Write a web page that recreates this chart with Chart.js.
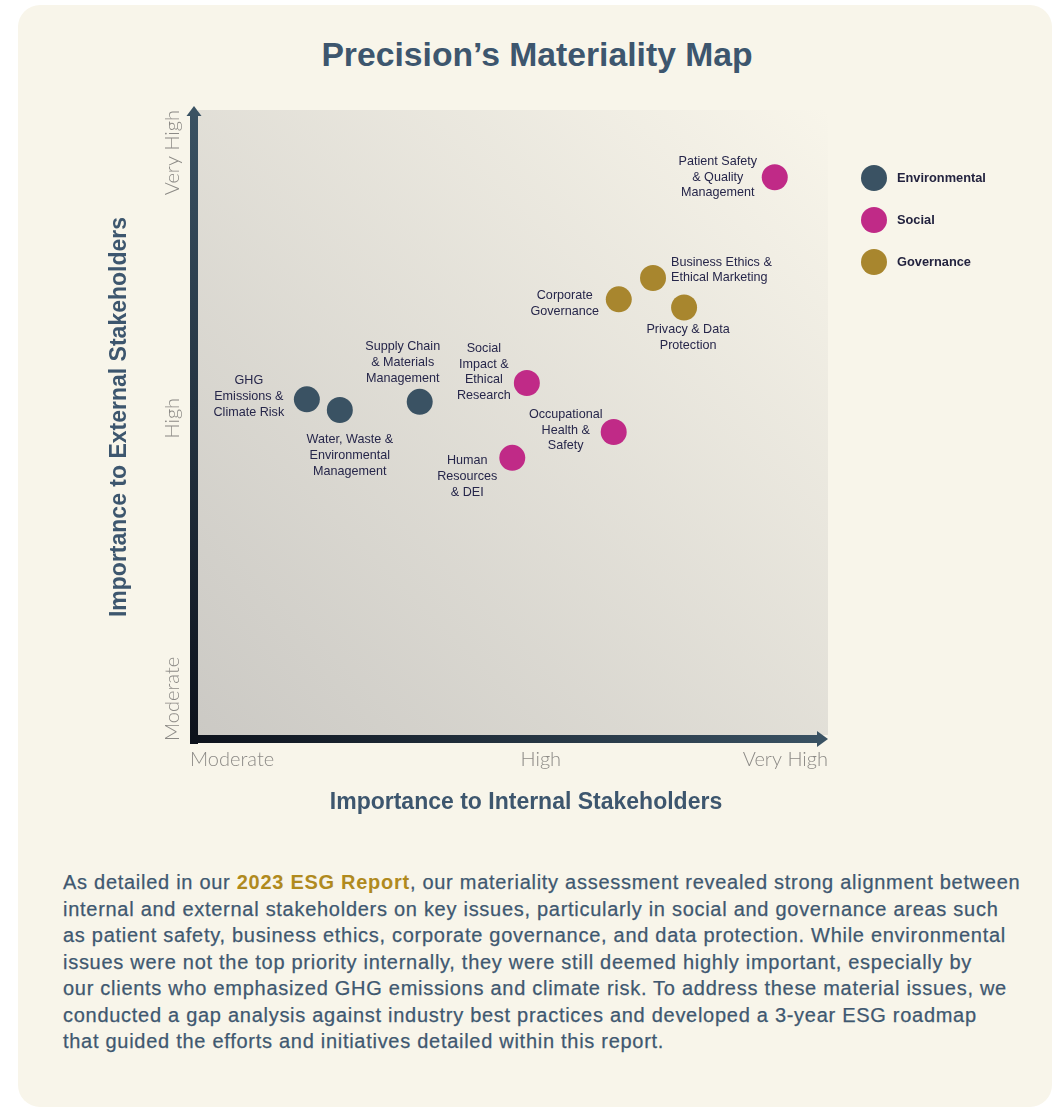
<!DOCTYPE html>
<html>
<head>
<meta charset="utf-8">
<script src="https://cdn.jsdelivr.net/npm/chart.js@4.4.1/dist/chart.umd.min.js"></script>
<style>
  html, body { margin: 0; padding: 0; background: #ffffff; }
  body { width: 1056px; height: 1109px; position: relative; overflow: hidden; font-family: 'Liberation Sans', Arial, sans-serif; }
  .card { position: absolute; left: 18px; top: 5px; width: 1034px; height: 1102px; background: #f8f5ea; border-radius: 22px; }
  h1 { position: absolute; left: 0; width: 1074px; top: 35px; margin: 0; text-align: center;
       font-family: 'Liberation Sans', Arial, sans-serif; font-weight: bold;
       font-size: 33.7px; color: #3d566e; }
  #map { position: absolute; left: 0; top: 0; }
  .note { position: absolute; left: 63px; top: 869px; margin: 0; white-space: nowrap;
          font-size: 20px; line-height: 26.5px; color: #3f5870; letter-spacing: 0.72px;
          -webkit-text-stroke: 0.25px #3f5870; }
  .note b { color: #b08a1e; -webkit-text-stroke: 0; }
</style>
</head>
<body>
<div class="card"></div>
<h1>Precision’s Materiality Map</h1>
<canvas id="map" width="1056" height="840"></canvas>
<p class="note">As detailed in our <b>2023 ESG Report</b>, our materiality assessment revealed strong alignment between<br>internal and external stakeholders on key issues, particularly in social and governance areas such<br>as patient safety, business ethics, corporate governance, and data protection. While environmental<br>issues were not the top priority internally, they were still deemed highly important, especially by<br>our clients who emphasized GHG emissions and climate risk. To address these material issues, we<br>conducted a gap analysis against industry best practices and developed a 3-year ESG roadmap<br>that guided the efforts and initiatives detailed within this report.</p>

<script>
'use strict';
/* global Chart */

// ─── Data ─────────────────────────────────────────────────────────────────────
const categories = ['Environmental', 'Social', 'Governance'];

const envIssues   = [['GHG', 'Emissions &', 'Climate Risk'],
                     ['Water, Waste &', 'Environmental', 'Management'],
                     ['Supply Chain', '& Materials', 'Management']];
const envInternal = [17.8, 23.0, 35.6];
const envExternal = [54.0, 52.3, 53.6];

const socIssues   = [['Patient Safety', '& Quality', 'Management'],
                     ['Social', 'Impact &', 'Ethical', 'Research'],
                     ['Occupational', 'Health &', 'Safety'],
                     ['Human', 'Resources', '& DEI']];
const socInternal = [91.6, 52.5, 66.2, 50.2];
const socExternal = [89.3, 56.6, 48.8, 44.7];

const govIssues   = [['Business Ethics &', 'Ethical Marketing'],
                     ['Corporate', 'Governance'],
                     ['Privacy & Data', 'Protection']];
const govInternal = [72.4, 67.0, 77.3];
const govExternal = [73.3, 69.9, 68.6];

const xTickValues = [0, 54.7, 100];
const yTickValues = [0, 51, 100];
const tickLabels  = ['Moderate', 'High', 'Very High'];

// ─── Look ─────────────────────────────────────────────────────────────────────
const colours   = ['#3a5263', '#c02a87', '#a8862e'];
const navy      = '#3d566e';
const labelInk  = '#26264a';

// where each issue label sits relative to its dot (dx, dy to text block centre)
const labelPlacement = {
  'GHG':            { dx: -58, dy: -3 },
  'Water, Waste &': { dx: 10,  dy: 45.5 },
  'Supply Chain':   { dx: -17, dy: -39.5 },
  'Patient Safety': { dx: -57, dy: 0 },
  'Social':         { dx: -43, dy: -11 },
  'Occupational':   { dx: -48, dy: -2 },
  'Human':          { dx: -45, dy: 18.5 },
  'Business Ethics &': { dx: 18, dy: -8, align: 'left' },
  'Corporate':      { dx: -54, dy: 4.5 },
  'Privacy & Data': { dx: 4,   dy: 30 },
};

function toPoints(xs, ys) {
  return xs.map((x, i) => ({ x, y: ys[i] }));
}

// ─── Plugin: background, axes, labels, legend ─────────────────────────────────
const mapDecor = {
  id: 'mapDecor',
  beforeDatasetsDraw(chart) {
    const { ctx, chartArea: a } = chart;
    ctx.save();
    const bg = ctx.createLinearGradient(a.left, a.bottom, a.right, a.top);
    bg.addColorStop(0, '#cbc9c4');
    bg.addColorStop(1, '#f8f5ea');
    ctx.fillStyle = bg;
    ctx.fillRect(a.left + 4, a.top, a.right - a.left - 4, a.bottom - a.top - 4);

    // vertical axis
    const gv = ctx.createLinearGradient(0, a.bottom, 0, a.top);
    gv.addColorStop(0, '#0d121c');
    gv.addColorStop(1, '#3a5263');
    ctx.fillStyle = gv;
    ctx.fillRect(a.left - 4, a.top + 5, 8, a.bottom - a.top);
    ctx.beginPath();
    ctx.moveTo(a.left - 7.5, a.top + 6);
    ctx.lineTo(a.left + 7.5, a.top + 6);
    ctx.lineTo(a.left, a.top - 4);
    ctx.closePath();
    ctx.fillStyle = '#3a5263';
    ctx.fill();

    // horizontal axis
    const gh = ctx.createLinearGradient(a.left, 0, a.right, 0);
    gh.addColorStop(0, '#0d121c');
    gh.addColorStop(1, '#3a5263');
    ctx.fillStyle = gh;
    ctx.fillRect(a.left - 4, a.bottom - 4, a.right - a.left - 6, 8);
    ctx.beginPath();
    ctx.moveTo(a.right - 11, a.bottom - 8);
    ctx.lineTo(a.right - 11, a.bottom + 8);
    ctx.lineTo(a.right, a.bottom);
    ctx.closePath();
    ctx.fillStyle = '#3a5263';
    ctx.fill();

    // tick labels
    const xs = chart.scales.x, ys = chart.scales.y;
    ctx.font = '300 20px Lato, "Liberation Sans", sans-serif';
    ctx.fillStyle = '#8c8a86';
    ctx.textBaseline = 'middle';
    xTickValues.forEach((v, i) => {
      ctx.textAlign = i === 0 ? 'left' : i === xTickValues.length - 1 ? 'right' : 'center';
      const px = xs.getPixelForValue(v) + (i === 0 ? -4 : 0);
      ctx.fillText(tickLabels[i], px, a.bottom + 21);
    });
    yTickValues.forEach((v, i) => {
      ctx.save();
      ctx.translate(a.left - 21, ys.getPixelForValue(v));
      ctx.rotate(-Math.PI / 2);
      ctx.textAlign = i === 0 ? 'left' : i === yTickValues.length - 1 ? 'right' : 'center';
      ctx.fillText(tickLabels[i], i === 0 ? -2 : 0, 0);
      ctx.restore();
    });

    // axis titles
    ctx.font = 'bold 23px "Liberation Sans", Arial, sans-serif';
    ctx.fillStyle = navy;
    ctx.textAlign = 'center';
    ctx.fillText('Importance to Internal Stakeholders', 526, 803);
    ctx.save();
    ctx.translate(120, 417);
    ctx.rotate(-Math.PI / 2);
    ctx.fillText('Importance to External Stakeholders', 0, 0);
    ctx.restore();
    ctx.restore();
  },
  afterDatasetsDraw(chart) {
    const { ctx } = chart;
    ctx.save();
    ctx.font = '12.6px "Liberation Sans", Arial, sans-serif';
    ctx.fillStyle = labelInk;
    ctx.textBaseline = 'middle';
    const lineH = 15.7;
    chart.data.datasets.forEach((ds, di) => {
      const meta = chart.getDatasetMeta(di);
      meta.data.forEach((pt, i) => {
        const lines = ds.issues[i];
        const place = labelPlacement[lines[0]];
        ctx.textAlign = place.align || 'center';
        const y0 = pt.y + place.dy - (lines.length - 1) * lineH / 2;
        lines.forEach((ln, k) => ctx.fillText(ln, pt.x + place.dx, y0 + k * lineH));
      });
    });

    // legend
    ctx.font = 'bold 12.8px "Liberation Sans", Arial, sans-serif';
    ctx.textAlign = 'left';
    chart.data.datasets.forEach((ds, di) => {
      const cy = 178 + di * 42;
      ctx.beginPath();
      ctx.arc(874, cy, 13, 0, Math.PI * 2);
      ctx.fillStyle = ds.backgroundColor;
      ctx.fill();
      ctx.fillStyle = '#23233f';
      ctx.fillText(ds.label, 897, cy);
    });
    ctx.restore();
  },
};

// ─── Chart ────────────────────────────────────────────────────────────────────
const groups = [
  { issues: envIssues, xs: envInternal, ys: envExternal },
  { issues: socIssues, xs: socInternal, ys: socExternal },
  { issues: govIssues, xs: govInternal, ys: govExternal },
];

new Chart(document.getElementById('map'), {
  type: 'scatter',
  data: {
    datasets: groups.map((g, i) => ({
      label: categories[i],
      issues: g.issues,
      data: toPoints(g.xs, g.ys),
      backgroundColor: colours[i],
      borderColor: colours[i],
      borderWidth: 0,
      pointRadius: 13,
      pointHoverRadius: 13,
    })),
  },
  options: {
    responsive: false,
    animation: false,
    events: [],
    layout: { padding: { left: 194, right: 228, top: 110, bottom: 101 } },
    plugins: { legend: { display: false }, tooltip: { enabled: false } },
    scales: {
      x: { type: 'linear', min: 0, max: 100, display: false },
      y: { type: 'linear', min: 0, max: 100, display: false },
    },
  },
  plugins: [mapDecor],
});
</script>
</body>
</html>
